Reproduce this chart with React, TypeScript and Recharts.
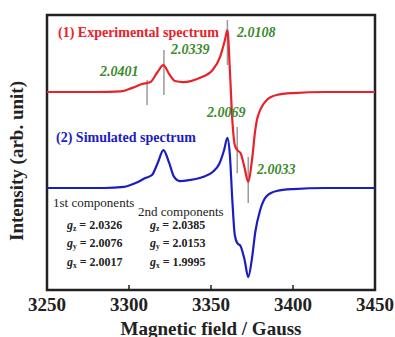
import React from 'react';
import { LineChart, Line, XAxis, YAxis, ReferenceArea, ReferenceLine, ReferenceDot } from 'recharts';

const FIELD_TICKS = [3250, 3300, 3350, 3400, 3450];

const EXP_FIELD = [3250, 3280, 3295, 3302, 3308, 3313, 3317, 3321, 3324.5, 3328, 3333, 3343, 3351, 3355.5, 3358.5, 3360, 3361.5, 3363, 3364.5, 3366, 3368, 3370.5, 3372.7, 3375, 3377, 3378, 3380, 3384, 3390, 3400, 3420, 3450];
const EXP_VALUE = [72.0, 72.0, 72.2, 73.5, 74.9, 75.6, 78.9, 81.8, 78.5, 76.0, 75.6, 77.1, 80.0, 84.7, 90.9, 94.5, 80.0, 61.8, 52.7, 50.9, 49.8, 44.4, 39.3, 47.3, 58.2, 61.8, 65.5, 69.1, 70.9, 71.6, 72.0, 72.0];

const SIM_FIELD = [3250, 3285, 3297, 3304, 3310, 3314, 3317.5, 3321, 3324.5, 3327.5, 3331, 3337, 3345, 3351, 3355, 3358, 3360, 3361.5, 3363, 3364.5, 3366, 3368, 3370.5, 3372.7, 3375, 3377, 3380, 3384, 3390, 3400, 3420, 3450];
const SIM_VALUE = [37.1, 37.1, 37.5, 38.9, 40.7, 41.8, 46.2, 50.9, 46.2, 41.1, 39.6, 40.0, 41.1, 42.9, 45.8, 50.9, 55.3, 49.1, 32.7, 20.0, 17.1, 16.0, 10.9, 4.7, 11.6, 21.1, 29.1, 34.2, 36.0, 36.7, 37.1, 37.1];

// g-value markers: field position, top and bottom of the grey bar
const MARK_FIELD = [3311, 3321.3, 3360, 3366, 3372.7];
const MARK_TOP = [76.4, 87.3, 98.2, 59.3, 48.4];
const MARK_BOTTOM = [67.3, 70.9, 81.8, 42.5, 31.6];

const G_LABELS = ['2.0401', '2.0339', '2.0108', '2.0069', '2.0033'];
const G_LABEL_FIELD = [3282.3, 3325.6, 3365.9, 3347.6, 3378.0];
const G_LABEL_Y = [79.3, 87.3, 93.8, 64.4, 44.0];

const COMP_AXES = ['z', 'y', 'x'];
const COMP_1ST = ['2.0326', '2.0076', '2.0017'];
const COMP_2ND = ['2.0385', '2.0153', '1.9995'];
const COMP_ROW_Y = [23.6, 17.0, 10.2];

const expData = EXP_FIELD.map((f, i) => ({ field: f, value: EXP_VALUE[i] }));
const simData = SIM_FIELD.map((f, i) => ({ field: f, value: SIM_VALUE[i] }));

const SERIF = 'Liberation Serif, DejaVu Serif, serif';
const RED = '#e8212b';
const BLUE = '#1c1cc4';
const GREEN = '#3a8a2c';

const note = (content: React.ReactNode, style: React.CSSProperties) => (p: any) => (
  <text x={p.viewBox.x} y={p.viewBox.y} dominantBaseline="central" style={{ fontFamily: SERIF, ...style }}>
    {content}
  </text>
);

const FieldTick = ({ x, y, payload }: any) => (
  <g>
    <line x1={x} x2={x} y1={y} y2={y - 5} stroke="#222" strokeWidth={1.5} />
    <text x={x} y={y + 14} textAnchor="middle" dominantBaseline="central" style={{ fontFamily: SERIF, fontWeight: 'bold', fontSize: 19, fill: '#222' }}>
      {payload.value}
    </text>
  </g>
);

export default function App() {
  return (
    <div style={{ position: 'absolute', left: 0, top: 0, background: '#fff' }}>
      <LineChart width={395} height={337} margin={{ top: 15, right: 20, left: 7, bottom: 17 }}>
        <XAxis
          type="number"
          dataKey="field"
          domain={[3250, 3450]}
          ticks={FIELD_TICKS}
          allowDataOverflow
          height={30}
          axisLine={false}
          tickLine={false}
          tickSize={0}
          tickMargin={0}
          tick={<FieldTick />}
          interval={0}
          label={(p: any) => (
            <text x={p.viewBox.x + p.viewBox.width / 2} y={328} textAnchor="middle" dominantBaseline="central" style={{ fontFamily: SERIF, fontWeight: 'bold', fontSize: 19, fill: '#222' }}>
              Magnetic field / Gauss
            </text>
          )}
        />
        <YAxis
          type="number"
          domain={[0, 100]}
          width={40}
          tick={false}
          axisLine={false}
          tickLine={false}
          label={() => (
            <text x={16} y={161} transform="rotate(-90 16 161)" textAnchor="middle" dominantBaseline="central" style={{ fontFamily: SERIF, fontWeight: 'bold', fontSize: 19, fill: '#222' }}>
              Intensity (arb. unit)
            </text>
          )}
        />
        <ReferenceArea x1={3250} x2={3450} y1={0} y2={100} fill="none" stroke="#222" strokeWidth={2.5} ifOverflow="visible" />
        {MARK_FIELD.map((f, i) => (
          <ReferenceLine
            key={`m${i}`}
            segment={[{ x: f, y: MARK_TOP[i] }, { x: f, y: MARK_BOTTOM[i] }]}
            stroke="#9a9a9a"
            strokeWidth={1.5}
          />
        ))}
        <Line data={expData} dataKey="value" type="monotone" stroke={RED} strokeWidth={2.2} dot={false} isAnimationActive={false} />
        <Line data={simData} dataKey="value" type="monotone" stroke={BLUE} strokeWidth={2.2} dot={false} isAnimationActive={false} />
        <ReferenceDot x={3256.7} y={93.5} r={0} label={note('(1) Experimental spectrum', { fill: RED, fontWeight: 'bold', fontSize: 14 })} />
        <ReferenceDot x={3255.5} y={55.6} r={0} label={note('(2) Simulated spectrum', { fill: BLUE, fontWeight: 'bold', fontSize: 14 })} />
        {G_LABELS.map((t, i) => (
          <ReferenceDot
            key={`g${i}`}
            x={G_LABEL_FIELD[i]}
            y={G_LABEL_Y[i]}
            r={0}
            label={note(t, { fill: GREEN, fontWeight: 'bold', fontStyle: 'italic', fontSize: 14 })}
          />
        ))}
        <ReferenceDot x={3253.7} y={32.0} r={0} label={note('1st components', { fill: '#222', fontSize: 13 })} />
        <ReferenceDot x={3305.5} y={28.7} r={0} label={note('2nd components', { fill: '#222', fontSize: 13 })} />
        {COMP_AXES.map((a, i) => (
          <ReferenceDot
            key={`c1${i}`}
            x={3262.2}
            y={COMP_ROW_Y[i]}
            r={0}
            label={note(
              <>
                <tspan fontStyle="italic">g</tspan>
                <tspan fontSize={7.5} dy={3}>{a}</tspan>
                <tspan dy={-3}>{` = ${COMP_1ST[i]}`}</tspan>
              </>,
              { fill: '#222', fontWeight: 'bold', fontSize: 12 }
            )}
          />
        ))}
        {COMP_AXES.map((a, i) => (
          <ReferenceDot
            key={`c2${i}`}
            x={3312.8}
            y={COMP_ROW_Y[i]}
            r={0}
            label={note(
              <>
                <tspan fontStyle="italic">g</tspan>
                <tspan fontSize={7.5} dy={3}>{a}</tspan>
                <tspan dy={-3}>{` = ${COMP_2ND[i]}`}</tspan>
              </>,
              { fill: '#222', fontWeight: 'bold', fontSize: 12 }
            )}
          />
        ))}
      </LineChart>
    </div>
  );
}
